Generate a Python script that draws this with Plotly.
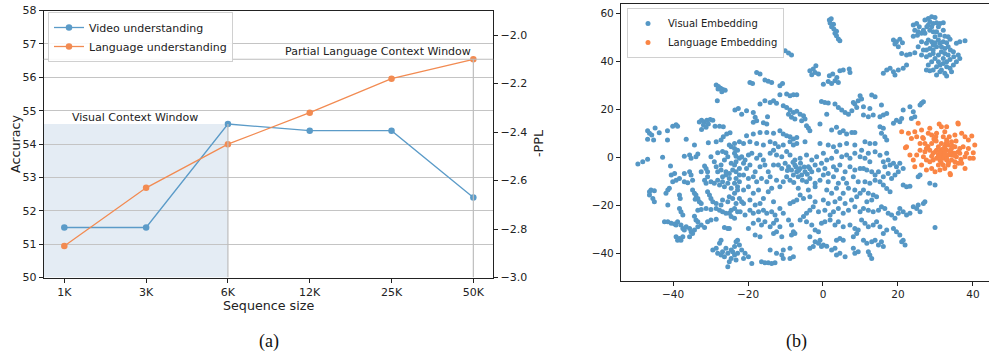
import plotly.graph_objects as go

# ---------------- (a) data ----------------
seq_sizes = ["1K", "3K", "6K", "12K", "25K", "50K"]
video_acc = [51.5, 51.5, 54.6, 54.4, 54.4, 52.4]
lang_neg_ppl = [-2.87, -2.63, -2.45, -2.32, -2.18, -2.10]
acc_ticks = [50, 51, 52, 53, 54, 55, 56, 57, 58]
ppl_ticks = [-3.0, -2.8, -2.6, -2.4, -2.2, -2.0]
visual_window_end = 2          # index of "6K"
visual_window_top = 54.6
lang_window_end = 5            # index of "50K"
lang_window_top = -2.10

# ---------------- (b) data (t-SNE) ----------------
visual_top_left = [
    (-46.8, 11.1), (-46.3, 10.0), (-46.8, 7.5), (-45.7, 9.3), (-44.8, 12.2), (-43.7, 10.3), (-45.2, 7.2),
    (-41.5, 11.1), (-41.5, 7.2), (-40.1, 13.0), (-39.2, 13.6), (-38.8, 13.0), (-36.5, 7.5), (-33.0, 14.7),
    (-32.4, 15.5), (-31.7, 14.7), (-31.0, 15.5), (-30.1, 15.8), (-29.4, 15.5), (-30.6, 13.9), (-31.9, 13.5),
    (-31.2, 12.5), (-32.4, 11.6), (-28.8, 13.0), (-27.6, 13.0), (-26.6, 12.8), (-26.6, 8.6), (-25.7, 9.7),
    (-24.8, 10.3), (-23.5, 19.7), (-22.6, 20.4), (-28.5, 30.1), (-27.9, 29.5), (-27.3, 28.8), (-26.7, 28.3),
    (-26.1, 28.0), (-27.0, 27.3), (-28.0, 28.5), (-28.2, 23.6),
]
visual_top_mid = [
    (1.7, 57.2), (2.8, 55.5), (2.3, 54.4), (2.9, 53.5), (3.6, 52.5), (3.2, 51.7), (3.6, 50.7), (4.1, 49.3),
    (4.5, 48.6), (1.9, 56.0), (2.2, 57.8), (-10.1, 44.4), (-9.2, 43.5), (-8.4, 42.6),
    (-17.7, 35.4), (-16.8, 34.7), (-19.5, 31.2), (-18.8, 30.8), (-15.5, 32.2), (-14.6, 31.7), (-13.7, 31.2),
    (-11.5, 29.8), (-10.8, 30.8), (-3.5, 36.1), (-2.6, 36.8), (-1.9, 38.2), (-2.1, 35.4), (-1.2, 34.7),
    (-3.0, 34.4), (1.7, 34.0), (2.6, 34.7), (3.7, 33.3), (3.2, 31.9), (2.3, 30.8), (1.4, 31.6), (4.1, 31.2),
    (0.1, 30.5), (4.5, 36.1), (5.4, 36.4), (7.2, 35.4), (7.0, 36.8),
    (-11.5, 26.1), (-9.7, 26.4), (-8.8, 25.7), (-7.9, 26.1), (-7.0, 26.1), (-13.2, 23.6), (-12.4, 22.5),
    (-14.1, 22.9), (-15.5, 23.6), (-16.8, 22.2), (-0.4, 23.3), (0.5, 22.9), (1.4, 22.6),
    (3.2, 22.2), (4.1, 20.8), (5.0, 19.7), (5.9, 18.7), (6.8, 18.0), (7.7, 19.4), (8.5, 22.2), (9.4, 23.6),
    (10.3, 24.3), (9.9, 25.7), (8.1, 22.9), (9.0, 20.8),
    (-10.6, 21.5), (-9.7, 20.8), (-8.8, 19.7), (-9.2, 18.0), (-7.9, 18.7), (-7.0, 19.2), (-8.4, 16.7),
    (-7.5, 16.0), (-6.1, 18.0), (-5.2, 17.3), (-4.8, 16.0), (-5.7, 15.3), (-4.4, 13.2), (-3.9, 12.2),
    (-3.5, 11.1), (-18.6, 18.7), (-18.1, 16.7), (-17.7, 15.3), (-18.6, 14.6), (-20.4, 19.4), (-21.7, 18.0),
    (1.0, 18.0), (-0.8, 13.9), (2.3, 11.4), (3.6, 12.5), (4.5, 10.4), (5.4, 11.1), (6.3, 9.7), (7.7, 10.4),
    (8.5, 10.4), (-20.4, 9.0), (-18.6, 9.7), (-16.8, 10.4), (-15.0, 10.4), (-13.2, 10.0), (-11.5, 11.1),
    (-10.6, 9.7), (-9.7, 9.0), (-8.8, 8.6), (-7.9, 7.6), (-7.0, 8.3), (-14.8, 16.9), (-15.9, 14.4), (-15.0, 13.9),
]
visual_top_right = [
    (24.1, 55.1), (25.0, 55.8), (25.7, 54.4), (24.5, 53.0), (25.4, 52.3), (26.3, 51.7), (24.1, 50.5), (25.2, 50.9),
    (28.1, 57.9), (29.0, 58.6), (29.9, 58.3), (28.5, 56.5), (29.4, 55.8), (30.3, 56.1), (31.2, 55.8), (32.1, 56.1),
    (27.7, 54.4), (28.5, 53.0), (29.4, 52.3), (27.2, 51.7), (29.9, 50.3), (31.2, 51.0), (32.5, 50.5), (33.4, 50.3),
    (33.9, 49.2), (33.0, 47.8), (32.1, 48.2), (31.2, 47.5), (30.3, 46.1), (29.4, 46.8), (28.5, 45.4), (27.6, 47.5),
    (26.8, 44.7), (26.3, 48.2), (25.4, 46.1), (24.5, 43.6), (23.2, 43.0), (22.3, 42.6), (21.0, 43.3), (18.8, 48.9),
    (19.6, 48.2), (20.5, 49.2), (21.2, 47.8), (20.1, 46.1), (19.2, 47.2), (27.6, 41.9), (28.5, 42.6), (29.4, 43.3),
    (30.8, 42.6), (31.6, 44.0), (32.5, 45.4), (33.4, 46.1), (34.0, 44.7), (34.8, 44.0), (35.6, 47.5), (36.5, 48.2),
    (37.9, 48.6), (33.9, 40.8), (33.0, 39.8), (32.1, 39.1), (31.2, 38.5), (30.3, 37.8), (29.4, 36.4), (28.5, 36.1),
    (27.6, 36.4), (31.6, 36.4), (32.5, 35.0), (33.0, 33.9), (30.3, 34.3), (33.9, 37.1), (34.8, 38.5), (35.6, 39.8),
    (36.5, 41.2), (36.1, 42.6), (34.9, 41.9), (30.8, 39.8), (31.2, 35.7),
    (17.0, 36.4), (17.9, 37.1), (18.8, 35.7), (19.2, 34.3), (16.1, 35.0), (20.1, 36.4), (21.4, 37.1), (22.3, 38.5),
    (27.2, 57.2), (28.1, 55.1), (29.0, 54.4), (30.8, 54.4), (26.8, 53.0), (30.3, 52.3), (32.1, 53.0), (28.1, 48.9),
    (29.0, 48.2), (29.9, 47.8), (30.8, 48.9), (31.6, 46.1), (32.5, 43.3), (33.4, 42.6), (29.9, 41.2), (29.0, 39.8),
    (28.1, 38.5), (32.1, 41.2), (33.0, 37.8), (34.3, 35.7), (29.4, 44.7), (27.6, 44.7), (26.3, 42.6),
    (13.0, 26.0), (13.9, 25.3),
]
visual_bottom_left = [
    (-49.4, -2.8), (-48.1, -1.8), (-46.8, -0.8), (-42.8, 0.0), (-40.7, -3.6), (-37.0, 0.5), (-35.6, 1.0),
    (-35.2, -0.4), (-33.9, 0.3), (-33.4, 1.4), (-34.3, 5.1), (-30.6, 6.1), (-28.1, 1.9), (-26.8, 2.4),
    (-25.9, 1.9), (-25.0, 5.1), (-24.5, 4.4), (-23.6, 1.7), (-23.2, 0.5), (-22.3, -0.4), (-23.2, -1.8),
    (-22.3, -4.6), (-23.6, -3.2), (-24.5, -2.5), (-31.6, -3.6), (-31.2, -4.6), (-28.5, -3.9), (-27.2, -3.2),
    (-28.1, -6.0), (-27.2, -5.3), (-25.9, -6.0), (-25.0, -6.7), (-24.1, -5.3), (-23.2, -6.0), (-22.3, -7.4),
    (-40.5, -7.4), (-39.6, -6.7), (-40.1, -10.2), (-39.2, -9.5), (-38.3, -8.8), (-37.0, -6.7), (-35.6, -6.0),
    (-35.2, -7.4), (-36.1, -10.6), (-37.0, -10.2), (-34.8, -9.5), (-31.6, -9.5), (-31.2, -10.8), (-30.8, -8.1),
    (-29.9, -10.2), (-29.0, -10.8), (-28.1, -9.5), (-27.6, -11.5), (-26.8, -10.2), (-26.3, -12.2), (-25.4, -10.8),
    (-24.5, -12.9), (-23.6, -10.8), (-22.8, -12.2), (-22.3, -10.2), (-23.2, -8.8), (-46.3, -14.3), (-45.9, -13.6),
    (-45.0, -13.9), (-46.3, -15.7), (-45.4, -17.1), (-45.0, -18.5), (-41.9, -15.0), (-41.4, -13.6), (-41.0, -12.9),
    (-41.4, -19.9), (-38.3, -15.7), (-38.1, -17.1), (-34.8, -13.6), (-34.3, -15.0), (-33.9, -15.7), (-33.4, -17.1),
    (-33.0, -18.5), (-32.5, -19.2), (-34.1, -17.5), (-30.8, -14.3), (-30.3, -15.7), (-29.9, -17.1), (-29.4, -18.5),
    (-28.5, -19.2), (-27.2, -19.9), (-26.8, -17.8), (-25.4, -18.5), (-25.0, -16.4), (-24.1, -17.1), (-23.2, -19.2),
    (-22.3, -17.1), (-23.6, -15.0), (-22.8, -13.6), (-38.3, -21.3), (-37.9, -22.7), (-37.4, -24.0), (-33.4, -22.0),
    (-32.5, -21.7), (-31.2, -21.3), (-29.9, -21.7), (-28.5, -21.3), (-34.3, -24.5), (-33.9, -26.1), (-33.4, -26.8),
    (-27.6, -22.0), (-26.8, -22.7), (-25.9, -23.3), (-25.0, -23.3), (-24.5, -22.0), (-23.6, -21.3), (-22.8, -22.7),
    (-24.5, -24.7), (-23.6, -25.4), (-42.3, -26.8), (-41.4, -26.8), (-40.5, -27.5), (-39.6, -27.8), (-39.2, -28.2),
    (-38.8, -26.8), (-37.9, -28.2), (-37.4, -29.6), (-37.0, -30.3), (-36.5, -28.9), (-35.6, -29.6), (-35.2, -31.0),
    (-34.8, -31.7), (-35.6, -33.1), (-34.3, -30.3), (-33.4, -28.9), (-32.5, -28.2), (-31.6, -29.2), (-30.8, -26.8),
    (-29.9, -26.1), (-28.5, -25.8), (-26.3, -29.2), (-25.4, -29.6), (-25.0, -29.6), (-39.2, -33.1), (-38.3, -33.8),
    (-37.9, -34.5), (-38.8, -34.5), (-37.4, -33.1), (-29.4, -38.6), (-28.5, -37.9), (-27.6, -35.8), (-27.2, -34.5),
    (-28.1, -40.0), (-26.8, -39.3), (-25.9, -37.9), (-25.4, -40.0), (-24.5, -38.6), (-23.6, -37.2), (-23.2, -35.2),
    (-22.8, -34.5), (-22.3, -36.5), (-23.6, -40.7), (-24.5, -42.1), (-25.0, -43.5), (-25.4, -45.6), (-23.2, -42.8),
    (-26.3, -41.4), (-27.2, -40.7), (-22.8, -40.0), (-24.1, -39.3), (-28.5, 6.5), (-27.2, 7.2), (-23.6, 5.8),
    (-22.3, 6.5), (-23.6, 3.7), (-22.8, 3.0), (-25.4, 0.3), (-26.3, -1.1), (-29.0, -1.8), (-29.9, 0.3),
    (-26.8, -8.1), (-25.9, -7.4), (-25.0, -8.8), (-30.8, -6.0), (-32.5, -6.0),
]
visual_bottom_mid = [
    (-21.2, 5.8), (-19.5, 6.5), (-17.7, 5.8), (-15.9, 5.1), (-14.1, 6.5), (-12.8, 5.8), (-11.9, 4.4), (-10.6, 5.1),
    (-8.8, 6.5), (-7.9, 5.1), (-7.0, 5.8), (-4.8, 6.5), (-0.8, 5.8), (1.4, 5.1), (2.8, 4.4), (4.5, 5.1), (6.3, 5.8),
    (8.5, 5.1), (-21.7, 0.3), (-20.8, -1.1), (-19.9, 1.0), (-19.0, 1.7), (-17.7, -0.4), (-16.8, 1.0), (-15.9, -1.1),
    (-14.1, 1.7), (-13.2, 3.0), (-12.4, 1.0), (-11.0, 0.3), (-9.7, 2.4), (-8.8, 1.0), (-7.5, -1.1), (-6.1, -0.4),
    (-4.4, 1.0), (-3.0, -1.1), (-1.7, 0.3), (0.1, 1.7), (1.0, -1.1), (2.3, -0.4), (3.6, 2.4), (5.0, 0.3), (6.3, 1.0),
    (7.2, -0.4), (8.5, 1.7), (9.9, 0.3), (-21.2, -2.5), (-20.4, -4.6), (-19.5, -3.2), (-18.1, -6.0), (-16.8, -3.9),
    (-15.5, -3.2), (-14.6, -6.0), (-13.2, -3.2), (-11.9, -3.2), (-11.0, -4.6), (-10.1, -2.5), (-9.2, -3.9),
    (-8.4, -5.3), (-7.5, -3.2), (-7.0, -6.0), (-6.1, -4.6), (-5.7, -7.4), (-6.6, -8.1), (-7.9, -7.4), (-8.8, -9.5),
    (-9.7, -8.1), (-10.6, -10.2), (-4.8, -6.0), (-3.9, -3.9), (-3.0, -6.0), (-2.1, -3.2), (-1.2, -5.3), (-0.4, -2.5),
    (0.5, -4.6), (1.4, -6.7), (2.8, -3.9), (3.6, -5.3), (4.5, -3.2), (5.9, -6.0), (7.2, -3.9), (8.5, -5.3),
    (9.9, -4.6), (-21.2, -7.4), (-19.9, -8.8), (-18.6, -8.1), (-17.7, -10.2), (-16.4, -8.8), (-15.0, -10.2),
    (-14.1, -8.1), (-12.4, -9.5), (-4.4, -10.2), (-3.5, -8.8), (-2.1, -10.8), (-0.8, -9.5), (0.1, -7.4),
    (1.4, -10.2), (2.8, -8.1), (4.1, -10.8), (5.4, -8.8), (6.3, -10.8), (8.1, -8.1), (9.4, -10.2),
    (-21.2, -13.6), (-19.9, -12.2), (-18.6, -15.0), (-17.2, -13.6), (-14.6, -14.3), (-13.7, -12.9), (-11.5, -12.2),
    (-6.6, -12.9), (-3.9, -13.6), (-2.1, -12.2), (1.0, -13.6), (2.3, -15.0), (3.6, -12.9), (5.4, -15.0),
    (6.8, -12.9), (8.5, -13.6), (9.9, -15.0), (-21.7, -18.5), (-21.2, -19.2), (-19.5, -17.8), (-18.1, -19.9),
    (-16.8, -19.2), (-15.9, -17.1), (-13.2, -18.5), (-8.8, -19.2), (-7.9, -18.5), (-7.0, -17.8), (-6.1, -15.7),
    (-5.2, -17.1), (-3.5, -16.4), (-2.1, -18.5), (0.1, -17.8), (1.4, -19.2), (3.2, -18.5), (4.5, -17.1),
    (5.9, -19.2), (7.6, -17.8), (9.0, -16.4), (-22.1, -22.7), (-20.8, -24.0), (-19.5, -22.0), (-18.6, -23.3),
    (-17.2, -22.7), (-15.9, -22.0), (-15.0, -23.3), (-13.7, -22.7), (-12.8, -24.0), (-11.5, -21.3), (-10.6, -23.3),
    (-5.2, -24.7), (-4.4, -23.3), (-3.5, -22.0), (-2.6, -20.6), (-1.2, -22.7), (0.5, -22.0), (1.9, -24.0),
    (2.8, -22.7), (4.1, -21.3), (5.4, -23.3), (6.8, -22.0), (8.5, -20.6), (9.9, -22.7), (-19.9, -29.6),
    (-18.6, -27.5), (-17.2, -26.1), (-16.4, -28.2), (-15.5, -26.8), (-14.1, -28.9), (-13.2, -27.5), (-12.4, -26.1),
    (-11.5, -28.9), (-9.2, -26.1), (-8.4, -28.2), (-7.9, -31.0), (-6.1, -26.1), (-4.4, -26.8), (-3.0, -28.2),
    (-2.1, -30.3), (-1.2, -31.0), (-0.4, -27.5), (0.5, -26.8), (1.9, -26.1), (3.2, -28.2), (4.1, -26.8),
    (5.4, -28.9), (7.2, -28.2), (8.5, -29.6), (9.4, -30.3), (-18.1, -32.4), (-16.8, -33.1), (-13.2, -31.7),
    (-12.4, -31.0), (-11.0, -33.1), (-8.4, -32.4), (-7.5, -31.7), (-3.5, -33.1), (-2.1, -35.2), (-0.8, -34.5),
    (0.1, -36.5), (3.6, -34.5), (4.5, -33.8), (5.4, -34.5), (8.1, -33.1), (9.0, -31.7), (-21.7, -38.6),
    (-20.8, -40.0), (-19.9, -41.4), (-21.2, -42.1), (-14.1, -38.6), (-12.4, -40.0), (-11.0, -40.7), (-10.6, -38.6),
    (-8.8, -37.9), (-7.9, -41.4), (-8.8, -42.1), (-3.5, -37.9), (-2.6, -37.2), (-1.2, -35.8), (-0.4, -37.2),
    (1.0, -37.0), (2.3, -38.6), (3.2, -37.9), (3.6, -40.7), (4.5, -40.0), (5.9, -41.4), (8.1, -37.9), (8.5, -40.0),
    (9.4, -39.3), (-16.4, -43.5), (-15.5, -43.9), (-14.6, -43.9), (-13.7, -44.2), (-12.8, -43.9), (-19.0, -44.2),
    (-10.6, -42.1), (-6.5, -5.5), (-7.2, -4.0), (-5.0, -4.0), (-6.0, -2.5), (-4.2, -7.0), (-8.0, -2.0),
    (-5.5, -9.5), (-3.5, -4.8), (-9.5, -5.5), (-7.8, -10.5),
]
visual_bottom_right = [
    (10.8, 21.1), (12.5, 20.4), (13.4, 17.6), (10.8, 17.6), (12.1, 16.9), (15.6, 21.8), (15.2, 16.9), (16.1, 17.6),
    (17.0, 18.3), (21.4, 19.7), (23.2, 21.1), (24.1, 19.0), (24.5, 16.9), (25.9, 21.8), (26.3, 22.5), (26.8, 23.2),
    (23.6, 16.2), (18.8, 14.2), (19.6, 15.5), (21.0, 16.2), (20.5, 14.8), (15.2, 12.8), (15.6, 10.0), (16.5, 8.6),
    (17.0, 7.2), (16.1, 12.1), (11.2, 6.5), (12.5, 5.8), (13.9, 5.8), (10.3, 3.0), (11.2, -0.4), (12.1, 1.7),
    (12.5, -1.8), (13.9, 2.3), (15.2, 0.9), (16.1, -1.8), (17.0, 1.7), (17.4, -1.1), (16.5, -3.9), (17.9, -3.2),
    (18.8, -2.5), (19.6, -3.9), (20.5, -2.5), (21.4, -4.6), (20.1, -6.0), (19.2, -7.4), (18.3, -8.8), (17.4, -6.7),
    (16.1, -8.1), (14.8, -6.0), (13.9, -7.4), (13.0, -6.0), (11.7, -5.3), (10.8, -4.6), (11.2, -10.2), (12.5, -10.8),
    (13.9, -9.5), (15.2, -10.2), (16.1, -11.5), (17.0, -13.0), (17.9, -14.3), (10.8, -13.6), (12.1, -15.0),
    (13.4, -15.7), (14.3, -16.4), (13.0, -17.8), (11.7, -18.5), (10.8, -21.3), (12.1, -22.0), (13.4, -22.7),
    (14.8, -22.0), (15.6, -20.6), (16.5, -21.3), (17.4, -23.3), (18.3, -24.0), (19.2, -25.4), (20.1, -23.3),
    (20.5, -21.3), (21.4, -22.7), (22.3, -24.0), (23.2, -23.3), (24.1, -20.6), (25.0, -21.3), (25.4, -19.9),
    (25.9, -22.7), (26.8, -19.2), (27.2, -18.5), (21.4, -11.5), (22.3, -12.2), (23.2, -12.0), (25.4, -8.1),
    (25.9, -7.4), (28.5, -10.8), (29.9, -11.5), (10.3, -26.1), (11.2, -27.5), (12.1, -28.9), (13.4, -28.2),
    (14.3, -26.8), (15.2, -28.9), (16.1, -31.7), (17.0, -30.3), (18.8, -29.6), (19.6, -31.0), (20.5, -32.4),
    (21.0, -35.2), (21.9, -36.5), (21.4, -34.5), (10.8, -34.5), (11.7, -35.8), (13.0, -35.2), (13.9, -34.5),
    (14.8, -36.5), (16.1, -37.2), (15.6, -35.2), (12.5, -40.7), (13.0, -42.1), (12.1, -39.3), (29.9, -29.2),
]
language_points = [
    (21.0, 10.7), (22.3, 4.4), (22.0, 4.0), (22.8, 10.0), (23.6, 7.9), (24.5, 10.7), (25.0, 8.6), (25.4, 14.2),
    (26.3, 11.4), (26.8, 7.9), (27.2, 5.8), (27.6, 3.7), (28.1, 10.0), (28.5, 12.1), (29.0, 9.3), (29.9, 7.2),
    (30.3, 10.0), (31.0, 13.9), (31.6, 12.8), (32.5, 10.7), (33.0, 12.8), (33.7, 8.6), (34.3, 6.5), (35.2, 9.3),
    (36.1, 13.9), (37.0, 10.0), (37.9, 8.6), (38.8, 7.2), (39.7, 8.9), (40.5, 5.1), (38.8, 3.7), (40.1, 1.9),
    (39.2, -0.4), (40.1, -0.4), (37.9, 0.3), (37.0, -2.5), (37.9, -4.6), (36.1, -2.5), (35.2, -3.9), (33.9, -6.7),
    (32.5, -4.6), (31.2, -5.3), (29.9, -6.0), (29.0, -4.6), (27.6, -5.3), (26.3, -3.2), (24.5, -3.9), (24.1, -1.1),
    (23.2, 1.0), (25.0, 1.0), (25.9, 3.0), (27.2, 2.3), (28.5, 3.0), (29.4, 1.7), (30.3, 3.0), (30.8, 4.4),
    (31.6, 3.0), (32.1, 1.7), (32.5, 4.4), (33.0, 3.0), (33.4, 1.0), (33.9, 2.3), (34.3, 3.7), (34.8, 1.7),
    (35.2, 4.4), (35.6, 0.3), (36.1, 2.3), (36.5, 3.7), (32.1, -0.4), (31.2, -1.1), (30.3, -0.4), (33.0, -1.1),
    (34.3, -1.1), (35.2, -1.8), (29.4, -1.1), (28.5, -1.8), (27.6, -1.1), (26.8, 0.3), (31.6, 5.8), (33.0, 7.2),
    (29.0, 5.8), (25.9, 5.8), (33.4, -3.2), (32.1, -3.2), (30.8, -3.2), (36.5, 1.7), (37.4, 4.4), (38.3, 1.7),
    (30.1, 8.6), (32.1, 8.6), (30.8, 1.0), (31.6, 1.0), (32.5, 1.0), (31.2, 2.3), (33.4, 5.1), (34.3, 1.0),
    (35.2, 1.7), (32.5, 2.3), (31.0, 0.0), (32.0, 3.5), (33.0, -0.5), (34.0, 2.8), (35.0, 0.8), (30.0, 2.3),
    (31.5, -2.0), (33.5, -2.2), (34.5, 4.8), (32.8, 5.5), (36.8, -0.8), (29.0, 0.5), (28.0, 4.5), (33.0, 6.2),
    (35.5, 6.8), (29.6, 7.6), (30.2, 6.8), (26.6, 8.3), (36.0, 14.3), (34.0, -7.2),
]

BLUE_A = "#5b9bc8"
ORANGE_A = "#f28b52"
BLUE_B = "#5597c5"
ORANGE_B = "#fa8544"
TXT = "#222222"
GRID = "#c4c4c4"

fig = go.Figure()

fig.add_trace(go.Scatter(
    x=seq_sizes, y=video_acc, mode="lines+markers", name="Video understanding",
    line=dict(color=BLUE_A, width=1.3), marker=dict(color=BLUE_A, size=6.5),
    xaxis="x", yaxis="y", legend="legend",
))
fig.add_trace(go.Scatter(
    x=seq_sizes, y=lang_neg_ppl, mode="lines+markers", name="Language understanding",
    line=dict(color=ORANGE_A, width=1.3), marker=dict(color=ORANGE_A, size=6.5),
    xaxis="x", yaxis="y2", legend="legend",
))

visual_all = visual_top_left + visual_top_mid + visual_top_right + visual_bottom_left + visual_bottom_mid + visual_bottom_right
fig.add_trace(go.Scatter(
    x=[p[0] for p in visual_all], y=[p[1] for p in visual_all], mode="markers",
    name="Visual Embedding", marker=dict(color=BLUE_B, size=5),
    xaxis="x2", yaxis="y3", legend="legend2",
))
fig.add_trace(go.Scatter(
    x=[p[0] for p in language_points], y=[p[1] for p in language_points], mode="markers",
    name="Language Embedding", marker=dict(color=ORANGE_B, size=5),
    xaxis="x2", yaxis="y3", legend="legend2",
))

W, H = 989, 354
def px_x(p):
    return p / W
def px_y(p):
    return 1 - p / H

shapes = [
    dict(type="rect", xref="x", yref="y", x0=-0.3, x1=visual_window_end, y0=50, y1=visual_window_top,
         fillcolor="#e4ecf4", line=dict(width=0), layer="below"),
    dict(type="line", xref="x", yref="y", x0=visual_window_end, x1=visual_window_end, y0=50,
         y1=visual_window_top, line=dict(color="#bdbdbd", width=1.2)),
    dict(type="line", xref="x domain", yref="y2", x0=0, x1=1, y0=lang_window_top, y1=lang_window_top,
         line=dict(color="#bdbdbd", width=1.2)),
    dict(type="line", xref="x", yref="y2", x0=lang_window_end, x1=lang_window_end, y0=-3.0,
         y1=lang_window_top, line=dict(color="#bdbdbd", width=1.2)),
]

ann = [
    dict(text="Visual Context Window", x=0.07, y=54.81, xref="x", yref="y", xanchor="left",
         yanchor="middle", showarrow=False, font=dict(size=11, color=TXT)),
    dict(text="Partial Language Context Window", x=4.99, y=56.78, xref="x", yref="y", xanchor="right",
         yanchor="middle", showarrow=False, font=dict(size=11, color=TXT)),
    dict(text="Accuracy", textangle=-90, x=px_x(15), y=px_y(144), xref="paper", yref="paper",
         xanchor="center", yanchor="middle", showarrow=False, font=dict(size=12.7, color=TXT)),
    dict(text="-PPL", textangle=-90, x=px_x(538), y=px_y(144), xref="paper", yref="paper",
         xanchor="center", yanchor="middle", showarrow=False, font=dict(size=12.7, color=TXT)),
    dict(text="Sequence size", x=px_x(268), y=px_y(305), xref="paper", yref="paper",
         xanchor="center", yanchor="middle", showarrow=False, font=dict(size=12.7, color=TXT)),
    dict(text="(a)", x=px_x(269), y=px_y(341), xref="paper", yref="paper", xanchor="center",
         yanchor="middle", showarrow=False, font=dict(size=18, color="#111", family="Liberation Serif")),
    dict(text="(b)", x=px_x(796), y=px_y(341), xref="paper", yref="paper", xanchor="center",
         yanchor="middle", showarrow=False, font=dict(size=18, color="#111", family="Liberation Serif")),
]

axis_common = dict(showline=True, linecolor="#222", linewidth=1.2, ticks="outside", ticklen=4,
                   tickcolor="#222", tickwidth=1, zeroline=False, automargin=False)

fig.update_layout(
    width=W, height=H, autosize=False,
    margin=dict(l=0, r=0, t=0, b=0, autoexpand=False),
    paper_bgcolor="white", plot_bgcolor="white",
    font=dict(family="DejaVu Sans", color=TXT, size=11),
    shapes=shapes, annotations=ann,
    xaxis=dict(domain=[px_x(43.7), px_x(493.3)], anchor="y", type="category", range=[-0.252, 5.244],
               mirror=True, showgrid=False, tickfont=dict(size=11), **axis_common),
    yaxis=dict(domain=[px_y(277.6), px_y(10.5)], anchor="x", range=[50, 58], tickvals=acc_ticks,
               mirror=True, showgrid=True, gridcolor=GRID, gridwidth=1, tickfont=dict(size=11), **axis_common),
    yaxis2=dict(overlaying="y", side="right", anchor="x", range=[-3.0, -1.899], tickvals=ppl_ticks,
                tickformat=".1f", showgrid=False, tickfont=dict(size=11), **axis_common),
    xaxis2=dict(domain=[px_x(621), 1.0], anchor="y3", range=[-53.9, 44.3], tickvals=[-40, -20, 0, 20, 40],
                mirror=True, showgrid=False, tickfont=dict(size=10.5), **axis_common),
    yaxis3=dict(domain=[px_y(280.7), px_y(4)], anchor="x2", range=[-51.4, 63.9],
                tickvals=[-40, -20, 0, 20, 40, 60], showgrid=False, tickfont=dict(size=10.5), **axis_common),
    legend=dict(x=px_x(48), y=px_y(12), xanchor="left", yanchor="top", bgcolor="rgba(255,255,255,0.9)",
                bordercolor="#d0d0d0", borderwidth=1, font=dict(size=11, color=TXT), itemwidth=30,
                tracegroupgap=0),
    legend2=dict(x=px_x(627), y=px_y(8), xanchor="left", yanchor="top", bgcolor="rgba(255,255,255,0.9)",
                 bordercolor="#d0d0d0", borderwidth=1, font=dict(size=10, color=TXT), itemwidth=30,
                 tracegroupgap=0),
    showlegend=True,
)

fig.write_html(
    "out.html",
    config={"displayModeBar": False},
    post_script="document.body.style.margin='0';document.body.style.padding='0';document.body.style.overflow='hidden';",
)
